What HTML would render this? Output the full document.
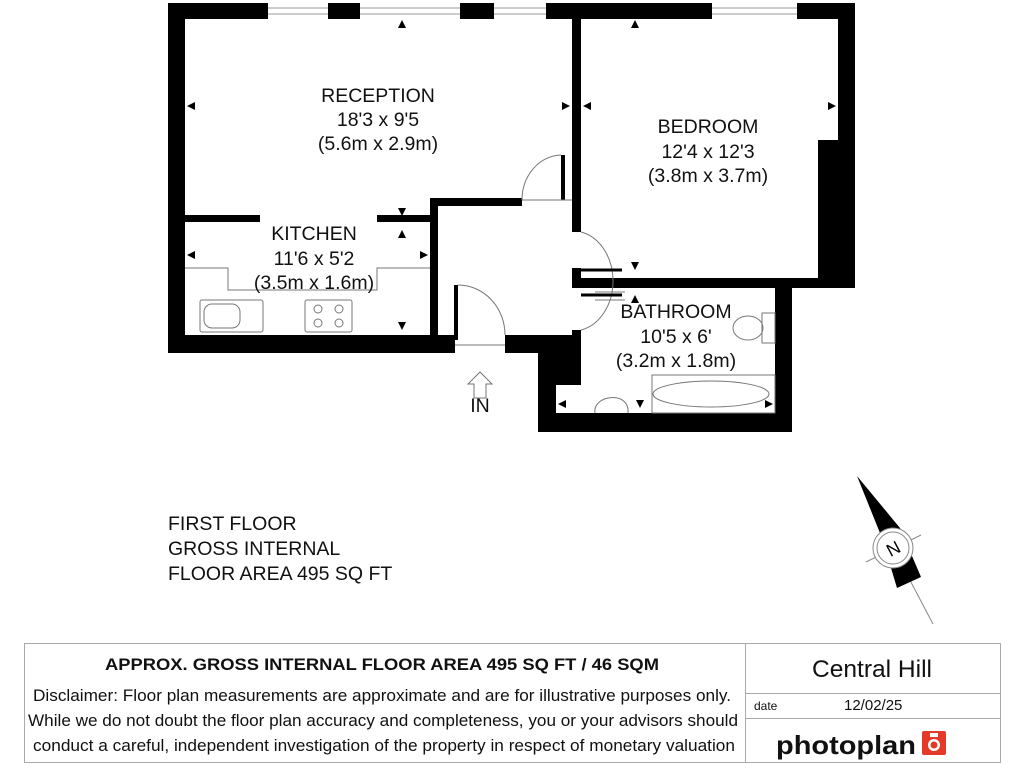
<!DOCTYPE html>
<html><head><meta charset="utf-8"><style>
body{margin:0;background:#fff;width:1024px;height:768px;overflow:hidden;font-family:"Liberation Sans",Arial,sans-serif}
svg{display:block}
</style></head><body>
<svg width="1024" height="768" viewBox="0 0 1024 768" xmlns="http://www.w3.org/2000/svg" font-family="Liberation Sans, Arial, sans-serif">
<g fill="#000">
<rect x="168" y="3" width="100" height="16"/>
<rect x="328" y="3" width="32" height="16"/>
<rect x="460" y="3" width="34" height="16"/>
<rect x="546" y="3" width="166" height="16"/>
<rect x="797" y="3" width="58" height="16"/>
<rect x="168" y="3" width="17" height="350"/>
<rect x="168" y="335" width="287" height="18"/>
<rect x="505" y="335" width="75" height="18"/>
<rect x="838" y="3" width="17" height="285"/>
<rect x="818" y="140" width="37" height="148"/>
<rect x="572" y="19" width="9" height="213"/>
<rect x="572" y="278" width="283" height="10"/>
<rect x="572" y="268" width="9" height="20"/>
<rect x="185" y="215" width="75" height="7"/>
<rect x="377" y="215" width="60" height="7"/>
<rect x="430" y="198" width="92" height="8"/>
<rect x="430" y="198" width="8" height="137"/>
<rect x="454" y="285" width="4" height="55"/>
<rect x="775" y="285" width="17" height="147"/>
<rect x="538" y="413" width="254" height="19"/>
<rect x="538" y="340" width="18" height="92"/>
<rect x="538" y="340" width="37" height="45"/>
<rect x="572" y="330" width="9" height="55"/>
<rect x="561" y="155" width="4" height="45"/>
</g>
<g stroke="#999" stroke-width="1">
<line x1="268" y1="8" x2="328" y2="8"/><line x1="268" y1="14" x2="328" y2="14"/>
<line x1="360" y1="8" x2="460" y2="8"/><line x1="360" y1="14" x2="460" y2="14"/>
<line x1="494" y1="8" x2="546" y2="8"/><line x1="494" y1="14" x2="546" y2="14"/>
<line x1="712" y1="8" x2="797" y2="8"/><line x1="712" y1="14" x2="797" y2="14"/>
</g>
<g fill="none" stroke="#777" stroke-width="1">
<path d="M561 155 A40 45 0 0 0 522 200"/>
<line x1="522" y1="200" x2="572" y2="200"/>
<path d="M581 232 A40 50 0 0 1 581 330"/>
<path d="M458 285 A47 50 0 0 1 505 335"/>
<line x1="455" y1="345" x2="505" y2="345"/>
<path d="M185 268 H228 V290 H377 V268 H430"/>
<rect x="200" y="300" width="63" height="32" rx="2"/>
<rect x="204" y="304" width="36" height="24" rx="8"/>
<rect x="305" y="300" width="47" height="32" rx="2"/>
<circle cx="318" cy="309" r="4"/><circle cx="339" cy="309" r="4"/><circle cx="318" cy="323" r="4"/><circle cx="339" cy="323" r="4"/>
<rect x="652" y="375" width="123" height="38"/>
<ellipse cx="711" cy="394" rx="58" ry="13"/>
<ellipse cx="748" cy="328" rx="15" ry="12"/>
<rect x="762" y="313" width="13" height="30"/>
<path d="M595 413 C592 395 630 390 628 413"/>
<path d="M595 292 H625 M595 300 H625" />
<path d="M468 384 L480 372 L492 384 H486 V398 H474 V384 Z"/>
</g>
<g fill="#000" stroke="#000" stroke-width="3">
<line x1="581" y1="270" x2="622" y2="270"/><line x1="581" y1="295" x2="622" y2="295"/>
</g>
<g fill="#000">
<path d="M398 28 l4 -8 l4 8z"/><path d="M631 28 l4 -8 l4 8z"/>
<path d="M187 106 l8 -4 v8z"/><path d="M570 106 l-8 -4 v8z"/>
<path d="M583 106 l8 -4 v8z"/><path d="M836 106 l-8 -4 v8z"/>
<path d="M398 208 l4 8 l4 -8z"/><path d="M398 238 l4 -8 l4 8z"/>
<path d="M187 255 l8 -4 v8z"/><path d="M428 255 l-8 -4 v8z"/>
<path d="M398 322 l4 8 l4 -8z"/>
<path d="M631 262 l4 8 l4 -8z"/><path d="M631 303 l4 -8 l4 8z"/>
<path d="M558 404 l8 -4 v8z"/><path d="M773 404 l-8 -4 v8z"/><path d="M636 400 l4 8 l4 -8z"/>
</g>
<g font-size="19.5" text-anchor="middle" fill="#111">
<text x="378" y="102">RECEPTION</text><text x="378" y="126">18'3 x 9'5</text><text x="378" y="150">(5.6m x 2.9m)</text>
<text x="708" y="133">BEDROOM</text><text x="708" y="158">12'4 x 12'3</text><text x="708" y="182">(3.8m x 3.7m)</text>
<text x="314" y="240">KITCHEN</text><text x="314" y="265">11'6 x 5'2</text><text x="314" y="289">(3.5m x 1.6m)</text>
<text x="676" y="318">BATHROOM</text><text x="676" y="343">10'5 x 6'</text><text x="676" y="367">(3.2m x 1.8m)</text>
<text x="480" y="412">IN</text>
</g>
<g font-size="19.5" fill="#111">
<text x="168" y="530">FIRST FLOOR</text><text x="168" y="555">GROSS INTERNAL</text><text x="168" y="580">FLOOR AREA 495 SQ FT</text>
</g>
<line x1="893" y1="548" x2="933" y2="624" stroke="#888" stroke-width="1"/>
<line x1="866" y1="562" x2="921" y2="535" stroke="#888" stroke-width="1"/>
<polygon points="857,476 900,528 921,577 897,588 882,538" fill="#000"/>
<circle cx="893" cy="548" r="20" fill="#fff" stroke="#888"/>
<circle cx="893" cy="548" r="16" fill="none" stroke="#888"/>
<text x="893" y="555" font-size="18" text-anchor="middle" transform="rotate(-28 893 548)">N</text>
<g fill="none" stroke="#aaa" stroke-width="1">
<rect x="24.5" y="643.5" width="976" height="119"/>
<line x1="745.5" y1="643" x2="745.5" y2="763"/>
<line x1="745" y1="693.5" x2="1000" y2="693.5"/>
<line x1="745" y1="718.5" x2="1000" y2="718.5"/>
</g>
<text x="105" y="670" font-size="17" font-weight="bold" fill="#111" textLength="554" lengthAdjust="spacingAndGlyphs">APPROX. GROSS INTERNAL FLOOR AREA 495 SQ FT / 46 SQM</text>
<g font-size="17" fill="#111">
<text x="33" y="701" textLength="698" lengthAdjust="spacingAndGlyphs">Disclaimer: Floor plan measurements are approximate and are for illustrative purposes only.</text>
<text x="28" y="726" textLength="710" lengthAdjust="spacingAndGlyphs">While we do not doubt the floor plan accuracy and completeness, you or your advisors should</text>
<text x="33" y="751" textLength="702" lengthAdjust="spacingAndGlyphs">conduct a careful, independent investigation of the property in respect of monetary valuation</text>
</g>
<text x="812" y="677" font-size="24" fill="#111" textLength="120" lengthAdjust="spacingAndGlyphs">Central Hill</text>
<text x="754" y="710" font-size="12" fill="#111">date</text>
<text x="844" y="710" font-size="15" fill="#111">12/02/25</text>
<text x="776" y="754" font-size="26" font-weight="bold" fill="#111" textLength="140" lengthAdjust="spacingAndGlyphs">photoplan</text>
<rect x="922" y="731" width="24" height="24" rx="2" fill="#e53a2a"/>
<circle cx="934" cy="745" r="6" fill="#fff"/><circle cx="934" cy="745" r="3.5" fill="#e53a2a"/>
<rect x="930" y="733" width="8" height="4" fill="#fff"/>
</svg>
</body></html>
